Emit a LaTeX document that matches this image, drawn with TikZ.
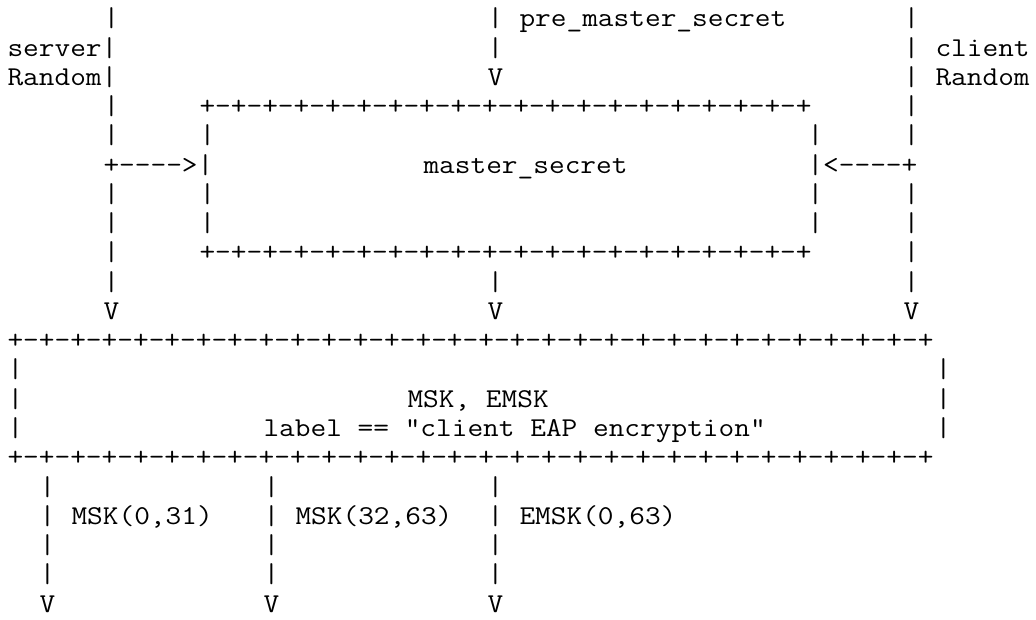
\documentclass[tikz,border=0pt]{standalone}
\usepackage{fontspec}
\usepackage{graphicx}
\tikzset{asc/.style={anchor=base west, inner sep=0pt, outer sep=0pt, text=black,
  font=\ttfamily\fontsize{27.21}{30}\selectfont}}
\newcommand\seg[3]{\node[asc] (r#1c#2) at ({7.5+16*#2},{592-29.25*#1}) {\scalebox{1.12}[1]{#3}};}
\newcommand\pmline[1]{\foreach \k in {1,...,#1}{+-}+}
\begin{document}
\begin{tikzpicture}[x=1pt,y=1pt]
\fill[white] (0,0) rectangle (1036,619);
\useasboundingbox (0,0) rectangle (1036,619);
% row 0
\seg{0}{6}{|}\seg{0}{30}{|}\seg{0}{32}{pre\_master\_secret}\seg{0}{56}{|}
% row 1
\seg{1}{0}{server|}\seg{1}{30}{|}\seg{1}{56}{|}\seg{1}{58}{client}
% row 2
\seg{2}{0}{Random|}\seg{2}{30}{V}\seg{2}{56}{|}\seg{2}{58}{Random}
% row 3
\seg{3}{6}{|}\seg{3}{12}{\pmline{19}}\seg{3}{56}{|}
% rows 4-7
\seg{4}{6}{|}\seg{4}{12}{|}\seg{4}{50}{|}\seg{4}{56}{|}
\seg{5}{6}{+---->|}\seg{5}{26}{master\_secret}\seg{5}{50}{|<----+}
\seg{6}{6}{|}\seg{6}{12}{|}\seg{6}{50}{|}\seg{6}{56}{|}
\seg{7}{6}{|}\seg{7}{12}{|}\seg{7}{50}{|}\seg{7}{56}{|}
% row 8
\seg{8}{6}{|}\seg{8}{12}{\pmline{19}}\seg{8}{56}{|}
% rows 9-10
\seg{9}{6}{|}\seg{9}{30}{|}\seg{9}{56}{|}
\seg{10}{6}{V}\seg{10}{30}{V}\seg{10}{56}{V}
% bottom box
\seg{11}{0}{\pmline{29}}
\seg{12}{0}{|}\seg{12}{58}{|}
\seg{13}{0}{|}\seg{13}{25}{MSK, EMSK}\seg{13}{58}{|}
\seg{14}{0}{|}\seg{14}{16}{label == "client EAP encryption"}\seg{14}{58}{|}
\seg{15}{0}{\pmline{29}}
% outputs
\seg{16}{2}{|}\seg{16}{16}{|}\seg{16}{30}{|}
\seg{17}{2}{|}\seg{17}{4}{MSK(0,31)}\seg{17}{16}{|}\seg{17}{18}{MSK(32,63)}\seg{17}{30}{|}\seg{17}{32}{EMSK(0,63)}
\seg{18}{2}{|}\seg{18}{16}{|}\seg{18}{30}{|}
\seg{19}{2}{|}\seg{19}{16}{|}\seg{19}{30}{|}
\seg{20}{2}{V}\seg{20}{16}{V}\seg{20}{30}{V}
\end{tikzpicture}
\end{document}
